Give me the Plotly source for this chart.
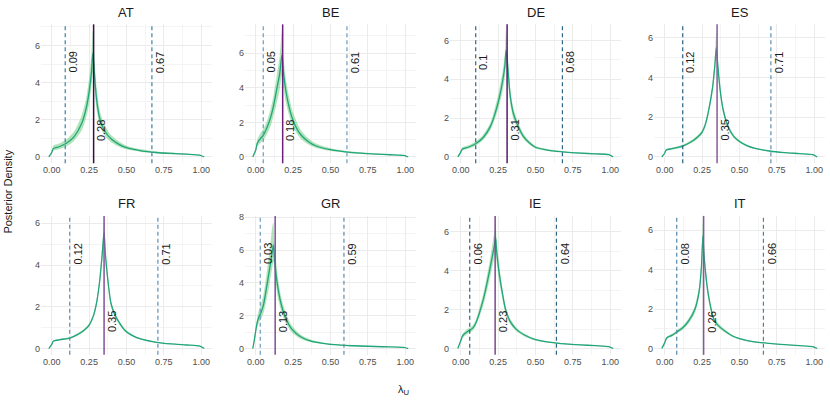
import plotly.graph_objects as go
from plotly.subplots import make_subplots

############ Data ##############
countries = ["AT", "BE", "DE", "ES", "FR", "GR", "IE", "IT"]
medians = [0.28, 0.18, 0.31, 0.35, 0.35, 0.13, 0.23, 0.26]
q_low = [0.09, 0.05, 0.1, 0.12, 0.12, 0.03, 0.06, 0.08]
q_high = [0.67, 0.61, 0.68, 0.71, 0.71, 0.59, 0.64, 0.66]
q_low_text = ["0.09", "0.05", "0.1", "0.12", "0.12", "0.03", "0.06", "0.08"]
q_high_text = ["0.67", "0.61", "0.68", "0.71", "0.71", "0.59", "0.64", "0.66"]
median_text = ["0.28", "0.18", "0.31", "0.35", "0.35", "0.13", "0.23", "0.26"]

at_x = [-0.02, 0.00, 0.01, 0.05, 0.10, 0.15, 0.20, 0.23, 0.25, 0.265, 0.275, 0.285, 0.30, 0.32, 0.35, 0.40, 0.45, 0.50, 0.60, 0.70, 0.80, 0.90, 0.99, 1.02]
at_mean = [0, 0.25, 0.45, 0.55, 0.75, 1.1, 1.8, 2.6, 3.5, 4.5, 5.6, 4.5, 3.1, 2.1, 1.45, 0.95, 0.68, 0.5, 0.33, 0.24, 0.19, 0.15, 0.1, 0]
at_lo = [0, 0.2, 0.34, 0.42, 0.58, 0.88, 1.42, 2.1, 2.85, 3.75, 4.5, 3.75, 2.55, 1.75, 1.2, 0.78, 0.55, 0.41, 0.27, 0.19, 0.15, 0.12, 0.08, 0]
at_hi = [0, 0.3, 0.6, 0.72, 0.95, 1.38, 2.25, 3.15, 4.25, 5.45, 6.8, 5.45, 3.75, 2.55, 1.78, 1.15, 0.83, 0.61, 0.41, 0.3, 0.24, 0.18, 0.12, 0]

be_x = [-0.02, 0.0, 0.01, 0.03, 0.05, 0.08, 0.10, 0.12, 0.14, 0.16, 0.175, 0.185, 0.20, 0.22, 0.25, 0.30, 0.35, 0.40, 0.50, 0.60, 0.70, 0.80, 0.90, 0.99, 1.02]
be_mean = [0, 0.4, 0.8, 1.05, 1.25, 1.8, 2.3, 3.0, 3.9, 4.8, 5.9, 4.9, 3.9, 3.0, 2.1, 1.3, 0.9, 0.65, 0.42, 0.3, 0.22, 0.17, 0.13, 0.09, 0]
be_lo = [0, 0.3, 0.6, 0.8, 0.95, 1.4, 1.8, 2.4, 3.1, 3.9, 4.7, 4.0, 3.2, 2.5, 1.72, 1.07, 0.73, 0.53, 0.34, 0.25, 0.18, 0.14, 0.1, 0.07, 0]
be_hi = [0, 0.5, 1.0, 1.35, 1.6, 2.2, 2.8, 3.6, 4.7, 5.8, 7.3, 5.8, 4.6, 3.6, 2.55, 1.58, 1.1, 0.8, 0.51, 0.36, 0.27, 0.21, 0.16, 0.11, 0]

de_x = [-0.02, 0.0, 0.01, 0.05, 0.10, 0.15, 0.20, 0.25, 0.28, 0.295, 0.303, 0.315, 0.33, 0.35, 0.38, 0.42, 0.46, 0.50, 0.60, 0.70, 0.80, 0.90, 0.99, 1.02]
de_mean = [0, 0.25, 0.4, 0.5, 0.68, 1.0, 1.6, 2.8, 3.9, 4.7, 5.5, 4.6, 3.2, 2.3, 1.65, 1.05, 0.72, 0.5, 0.33, 0.25, 0.2, 0.16, 0.12, 0]
de_lo = [0, 0.2, 0.33, 0.42, 0.58, 0.87, 1.4, 2.45, 3.4, 4.1, 4.7, 4.0, 2.8, 2.0, 1.45, 0.92, 0.63, 0.44, 0.29, 0.22, 0.17, 0.14, 0.1, 0]
de_hi = [0, 0.3, 0.5, 0.6, 0.8, 1.15, 1.8, 3.2, 4.4, 5.3, 6.5, 5.2, 3.6, 2.6, 1.85, 1.2, 0.82, 0.57, 0.38, 0.28, 0.23, 0.18, 0.14, 0]

es_x = [-0.02, 0.0, 0.01, 0.05, 0.12, 0.18, 0.22, 0.25, 0.27, 0.29, 0.32, 0.335, 0.345, 0.355, 0.37, 0.39, 0.42, 0.46, 0.50, 0.55, 0.60, 0.70, 0.80, 0.90, 0.99, 1.02]
es_mean = [0, 0.2, 0.35, 0.42, 0.55, 0.78, 1.0, 1.25, 1.6, 2.2, 3.5, 4.6, 5.5, 4.6, 3.4, 2.4, 1.6, 1.05, 0.78, 0.57, 0.44, 0.3, 0.22, 0.17, 0.12, 0]
es_lo = [0, 0.17, 0.3, 0.37, 0.49, 0.71, 0.91, 1.15, 1.47, 2.03, 3.25, 4.25, 4.95, 4.25, 3.15, 2.22, 1.48, 0.97, 0.72, 0.52, 0.4, 0.27, 0.2, 0.15, 0.1, 0]
es_hi = [0, 0.23, 0.4, 0.47, 0.61, 0.85, 1.09, 1.35, 1.73, 2.37, 3.75, 4.95, 6.35, 4.95, 3.65, 2.58, 1.72, 1.13, 0.84, 0.62, 0.48, 0.33, 0.24, 0.19, 0.14, 0]

fr_x = [-0.02, 0.0, 0.01, 0.05, 0.12, 0.18, 0.22, 0.25, 0.28, 0.30, 0.32, 0.335, 0.35, 0.36, 0.375, 0.395, 0.42, 0.46, 0.50, 0.55, 0.60, 0.70, 0.80, 0.90, 0.99, 1.02]
fr_mean = [0, 0.2, 0.35, 0.42, 0.5, 0.7, 0.9, 1.12, 1.6, 2.2, 3.2, 4.3, 5.55, 4.4, 3.3, 2.2, 1.65, 1.15, 0.8, 0.58, 0.45, 0.3, 0.22, 0.17, 0.12, 0]
fr_lo = [0, 0.18, 0.32, 0.39, 0.46, 0.65, 0.84, 1.04, 1.49, 2.05, 2.98, 4.0, 5.1, 4.1, 3.07, 2.05, 1.53, 1.07, 0.74, 0.54, 0.42, 0.28, 0.2, 0.16, 0.11, 0]
fr_hi = [0, 0.22, 0.38, 0.45, 0.54, 0.75, 0.96, 1.2, 1.71, 2.35, 3.42, 4.6, 6.05, 4.7, 3.53, 2.35, 1.77, 1.23, 0.86, 0.62, 0.48, 0.32, 0.24, 0.18, 0.13, 0]

gr_x = [-0.02, -0.01, 0.0, 0.01, 0.02, 0.035, 0.05, 0.07, 0.09, 0.10, 0.11, 0.118, 0.125, 0.135, 0.15, 0.17, 0.20, 0.24, 0.30, 0.37, 0.45, 0.55, 0.65, 0.75, 0.85, 0.95, 0.99, 1.02]
gr_mean = [0, 0.5, 1.1, 1.6, 1.9, 2.2, 2.6, 3.6, 4.7, 5.3, 5.9, 6.3, 5.5, 4.6, 3.6, 2.7, 1.85, 1.2, 0.72, 0.45, 0.32, 0.22, 0.17, 0.14, 0.11, 0.09, 0.07, 0]
gr_lo = [0, 0.4, 0.85, 1.3, 1.55, 1.8, 2.1, 2.9, 3.8, 4.4, 4.9, 5.3, 4.7, 3.9, 3.0, 2.3, 1.55, 1.0, 0.6, 0.38, 0.27, 0.19, 0.14, 0.12, 0.09, 0.07, 0.06, 0]
gr_hi = [0, 0.6, 1.3, 1.9, 2.3, 2.7, 3.2, 4.4, 5.8, 6.6, 7.4, 7.7, 6.5, 5.4, 4.2, 3.15, 2.2, 1.42, 0.85, 0.53, 0.37, 0.26, 0.2, 0.16, 0.13, 0.11, 0.08, 0]

ie_x = [-0.02, 0.0, 0.01, 0.02, 0.05, 0.08, 0.10, 0.15, 0.19, 0.21, 0.225, 0.233, 0.24, 0.255, 0.275, 0.30, 0.33, 0.37, 0.42, 0.50, 0.60, 0.70, 0.80, 0.90, 0.99, 1.02]
ie_mean = [0, 0.4, 0.62, 0.72, 0.9, 1.05, 1.3, 2.5, 3.9, 4.7, 5.3, 5.7, 5.0, 4.0, 3.0, 2.0, 1.4, 1.0, 0.72, 0.46, 0.32, 0.24, 0.19, 0.15, 0.1, 0]
ie_lo = [0, 0.32, 0.5, 0.6, 0.77, 0.92, 1.15, 2.2, 3.45, 4.15, 4.7, 5.0, 4.45, 3.55, 2.7, 1.8, 1.26, 0.9, 0.65, 0.41, 0.28, 0.21, 0.17, 0.13, 0.09, 0]
ie_hi = [0, 0.48, 0.74, 0.84, 1.03, 1.18, 1.45, 2.8, 4.35, 5.3, 6.0, 6.5, 5.6, 4.45, 3.3, 2.2, 1.54, 1.1, 0.79, 0.51, 0.36, 0.27, 0.21, 0.17, 0.11, 0]

it_x = [-0.02, 0.0, 0.01, 0.02, 0.05, 0.08, 0.12, 0.16, 0.20, 0.23, 0.245, 0.255, 0.262, 0.275, 0.29, 0.31, 0.33, 0.36, 0.40, 0.45, 0.50, 0.60, 0.70, 0.80, 0.90, 0.99, 1.02]
it_mean = [0, 0.3, 0.5, 0.58, 0.68, 0.84, 1.05, 1.4, 1.95, 2.9, 4.1, 5.7, 4.8, 3.7, 2.8, 2.0, 1.45, 1.15, 0.9, 0.65, 0.5, 0.34, 0.26, 0.2, 0.15, 0.1, 0]
it_lo = [0, 0.26, 0.44, 0.52, 0.61, 0.76, 0.95, 1.27, 1.77, 2.65, 3.75, 5.1, 4.35, 3.38, 2.56, 1.83, 1.33, 1.05, 0.82, 0.6, 0.46, 0.31, 0.24, 0.18, 0.14, 0.09, 0]
it_hi = [0, 0.34, 0.56, 0.64, 0.75, 0.92, 1.15, 1.53, 2.13, 3.15, 4.45, 6.4, 5.25, 4.02, 3.04, 2.17, 1.57, 1.25, 0.98, 0.7, 0.54, 0.37, 0.28, 0.22, 0.16, 0.11, 0]

curves = [
    (at_x, at_mean, at_lo, at_hi),
    (be_x, be_mean, be_lo, be_hi),
    (de_x, de_mean, de_lo, de_hi),
    (es_x, es_mean, es_lo, es_hi),
    (fr_x, fr_mean, fr_lo, fr_hi),
    (gr_x, gr_mean, gr_lo, gr_hi),
    (ie_x, ie_mean, ie_lo, ie_hi),
    (it_x, it_mean, it_lo, it_hi),
]

####### Styles ######
median_colors = ["#35103f", "#6b1f7b", "#561a6c", "#8a5a9a", "#84509a", "#84509a", "#7d4890", "#87589a"]
low_colors = ["#3a80a8", "#6f9abb", "#2c6688", "#2c6688", "#5f90b3", "#6f9abb", "#2c6688", "#4f88ae"]
high_colors = ["#3a80a8", "#6f9abb", "#2c6688", "#5f90b3", "#5f90b3", "#5f8aab", "#2c6688", "#4f7f9f"]

W, H = 830, 403
col_left = [41, 245, 450, 654]
panel_w = 171
row_top = [21.5, 214.5]
panel_h = 140
title_y = [10, 202]
FONT = "Liberation Sans, Arial, sans-serif"

fig = make_subplots(rows=2, cols=4)

for i, cc in enumerate(countries):
    r, c = i // 4 + 1, i % 4 + 1
    x, mean, lo, hi = curves[i]
    ymax = max(hi)

    # credible band
    fig.add_trace(go.Scatter(x=x, y=lo, mode="lines", line=dict(width=0, shape="spline", smoothing=0.7),
                             showlegend=False, hoverinfo="skip"), row=r, col=c)
    fig.add_trace(go.Scatter(x=x, y=hi, mode="lines", line=dict(width=0, shape="spline", smoothing=0.7),
                             fill="tonexty", fillcolor="rgba(80,195,100,0.45)",
                             showlegend=False, hoverinfo="skip"), row=r, col=c)
    # posterior mean
    fig.add_trace(go.Scatter(x=x, y=mean, mode="lines",
                             line=dict(color="#23a47c", width=1.3, shape="spline", smoothing=0.7),
                             showlegend=False), row=r, col=c)

    fig.add_vline(x=q_low[i], line=dict(color=low_colors[i], width=1.2, dash="4px,3px"), row=r, col=c)
    fig.add_vline(x=q_high[i], line=dict(color=high_colors[i], width=1.2, dash="4px,3px"), row=r, col=c)
    fig.add_vline(x=medians[i], line=dict(color=median_colors[i], width=1.5), row=r, col=c)

    xa = "x" if i == 0 else f"x{i + 1}"
    ya = "y" if i == 0 else f"y{i + 1}"
    for xv, txt, yv in [(q_low[i], q_low_text[i], 0.75 * ymax),
                        (q_high[i], q_high_text[i], 0.75 * ymax),
                        (medians[i], median_text[i], 0.21 * ymax)]:
        fig.add_annotation(x=xv, y=yv, xref=xa, yref=ya, text=txt, textangle=-90,
                           showarrow=False, xanchor="center", yanchor="middle", xshift=8,
                           font=dict(size=11, color="#1a1a1a", family=FONT))

    x0 = col_left[c - 1] / W
    x1 = (col_left[c - 1] + panel_w) / W
    y1 = 1 - row_top[r - 1] / H
    y0 = 1 - (row_top[r - 1] + panel_h) / H
    fig.update_xaxes(domain=[x0, x1], range=[-0.072, 1.072],
                     tickvals=[0, 0.25, 0.5, 0.75, 1.0], tickformat=".2f",
                     row=r, col=c)
    fig.update_yaxes(domain=[y0, y1], range=[-0.05 * ymax, 1.05 * ymax], dtick=2,
                     row=r, col=c)

    fig.add_annotation(x=(x0 + x1) / 2, y=1 - title_y[r - 1] / H, xref="paper", yref="paper",
                       text=cc, showarrow=False, xanchor="center", yanchor="middle",
                       font=dict(size=13, color="#1a1a1a", family=FONT))

fig.update_xaxes(showgrid=True, gridcolor="#ebebeb", gridwidth=1, zeroline=False,
                 showline=False, ticks="", tickfont=dict(size=9, color="#4d4d4d", family=FONT),
                 minor=dict(dtick=0.125, tick0=0.125, showgrid=True, gridcolor="#f4f4f4", gridwidth=0.6))
fig.update_yaxes(showgrid=True, gridcolor="#ebebeb", gridwidth=1, zeroline=False,
                 showline=False, ticks="", tickfont=dict(size=9, color="#4d4d4d", family=FONT),
                 minor=dict(dtick=1, showgrid=True, gridcolor="#f4f4f4", gridwidth=0.6))

# axis titles
fig.add_annotation(x=8 / W, y=1 - 190 / H, xref="paper", yref="paper", text="Posterior Density",
                   textangle=-90, showarrow=False, xanchor="center", yanchor="middle",
                   font=dict(size=11, color="#1a1a1a", family=FONT))
fig.add_annotation(x=403 / W, y=1 - 390 / H, xref="paper", yref="paper", text="λ<sub>U</sub>",
                   showarrow=False, xanchor="center", yanchor="middle",
                   font=dict(size=11, color="#1a1a1a", family=FONT))

fig.update_layout(width=W, height=H, margin=dict(l=0, r=0, t=0, b=0),
                  plot_bgcolor="white", paper_bgcolor="white", showlegend=False)

# page body has a default 8px margin; drop it so the figure fills the window
fig.write_html("out.html", config={"displayModeBar": False},
               post_script="document.body.style.margin='0';")
